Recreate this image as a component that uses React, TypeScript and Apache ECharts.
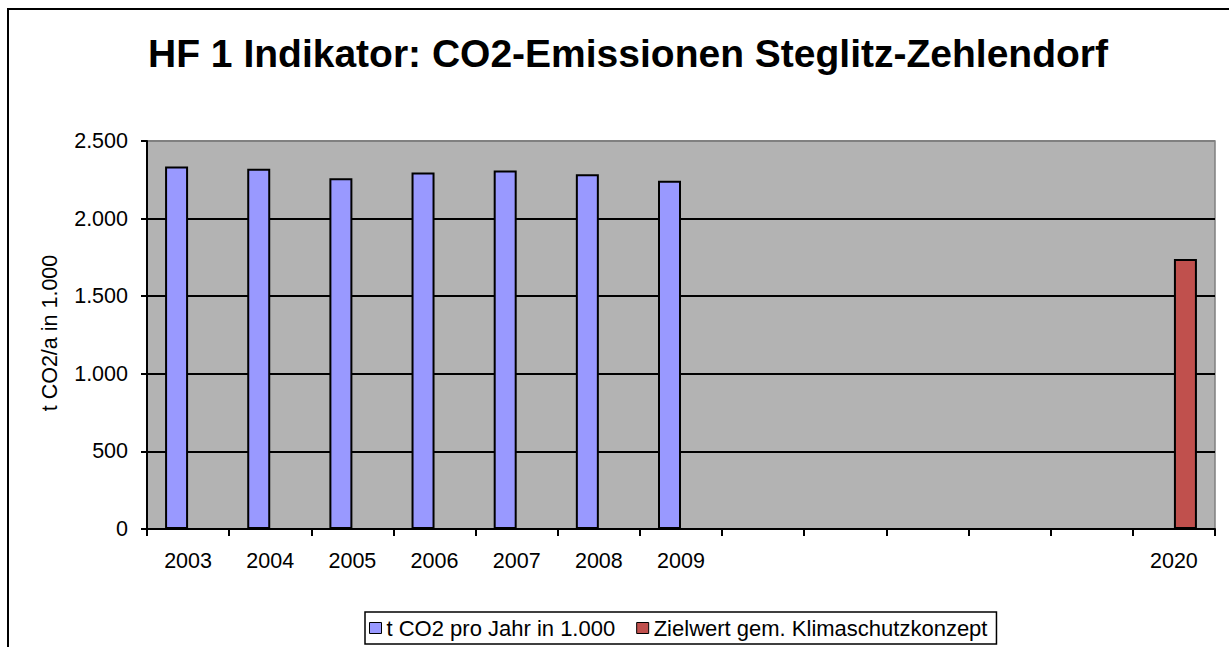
import React, { useEffect, useRef } from "react";
import * as echarts from "echarts";

const titleText = "HF 1 Indikator: CO2-Emissionen Steglitz-Zehlendorf";
const yAxisName = "t CO2/a in 1.000";
const categories = ["2003", "2004", "2005", "2006", "2007", "2008", "2009", "", "", "", "", "", "2020"];
const seriesNames = ["t CO2 pro Jahr in 1.000", "Zielwert gem. Klimaschutzkonzept"];
const co2Values = [2335, 2322, 2260, 2297, 2310, 2285, 2244, null, null, null, null, null, null];
const targetValues = [null, null, null, null, null, null, null, null, null, null, null, null, 1740];
const yTicks = { min: 0, max: 2500, interval: 500 };

const FONT = '"Liberation Sans", Arial, sans-serif';

function fmt(v: number): string {
  if (v >= 1000) {
    const t = Math.floor(v / 1000);
    const r = String(v % 1000).padStart(3, "0");
    return t + "." + r;
  }
  return String(v);
}

export default function App() {
  const ref = useRef<HTMLDivElement>(null);
  useEffect(() => {
    if (!ref.current) return;
    const chart = echarts.init(ref.current, null, { renderer: "svg" });
    chart.setOption({
      animation: false,
      backgroundColor: "#ffffff",
      textStyle: { fontFamily: FONT },
      grid: {
        left: 147,
        right: 14,
        top: 141,
        bottom: 118,
        show: true,
        backgroundColor: "#b3b3b3",
        borderColor: "#808080",
        borderWidth: 1.5,
      },
      graphic: [
        {
          type: "rect",
          shape: { x: 8, y: 9, width: 1260, height: 680 },
          style: { fill: "none", stroke: "#000", lineWidth: 2 },
          z: 100,
        },
        {
          type: "text",
          x: 628,
          y: 53,
          style: {
            text: titleText,
            font: `bold 39px ${FONT}`,
            fill: "#000",
            align: "center",
            verticalAlign: "middle",
          },
        },
        {
          type: "text",
          x: 50,
          y: 333,
          rotation: Math.PI / 2,
          style: {
            text: yAxisName,
            font: `21.5px ${FONT}`,
            fill: "#000",
            align: "center",
            verticalAlign: "middle",
          },
        },
      ],
      legend: {
        left: 365,
        top: 612,
        orient: "horizontal",
        padding: [5, 9, 5, 4],
        itemGap: 21,
        itemWidth: 12,
        itemHeight: 11,
        borderColor: "#000",
        borderWidth: 1.5,
        backgroundColor: "#fff",
        icon: "rect",
        itemStyle: { borderColor: "#000", borderWidth: 1 },
        textStyle: { fontSize: 22, color: "#000", fontFamily: FONT },
        data: seriesNames,
      },
      xAxis: {
        type: "category",
        data: categories,
        boundaryGap: true,
        axisLine: { show: true, lineStyle: { color: "#000", width: 2 } },
        axisTick: { show: true, interval: 0, length: 7, lineStyle: { color: "#000", width: 2 } },
        axisLabel: { interval: 0, margin: 21, fontSize: 21.5, color: "#000", fontFamily: FONT },
        splitLine: { show: false },
      },
      yAxis: {
        type: "value",
        min: yTicks.min,
        max: yTicks.max,
        interval: yTicks.interval,
        axisLine: { show: true, lineStyle: { color: "#000", width: 2 } },
        axisTick: { show: true, length: 6, lineStyle: { color: "#000", width: 2 } },
        axisLabel: {
          margin: 19,
          fontSize: 21.5,
          color: "#000",
          fontFamily: FONT,
          formatter: (v: number) => fmt(v),
        },
        splitLine: {
          show: true,
          lineStyle: { color: ["#000", "#000", "#000", "#000", "#000", "#808080"], width: 1.8 },
        },
      },
      series: [
        {
          name: seriesNames[0],
          type: "bar",
          data: co2Values,
          barWidth: 23,
          barGap: "0%",
          itemStyle: { color: "#9999ff", borderColor: "#000", borderWidth: 2 },
        },
        {
          name: seriesNames[1],
          type: "bar",
          data: targetValues,
          barWidth: 23,
          barGap: "0%",
          itemStyle: { color: "#c0504d", borderColor: "#000", borderWidth: 2 },
        },
      ],
    });
    return () => chart.dispose();
  }, []);
  return (
    <div
      ref={ref}
      style={{ position: "fixed", left: 0, top: 0, width: 1229, height: 647 }}
    />
  );
}
